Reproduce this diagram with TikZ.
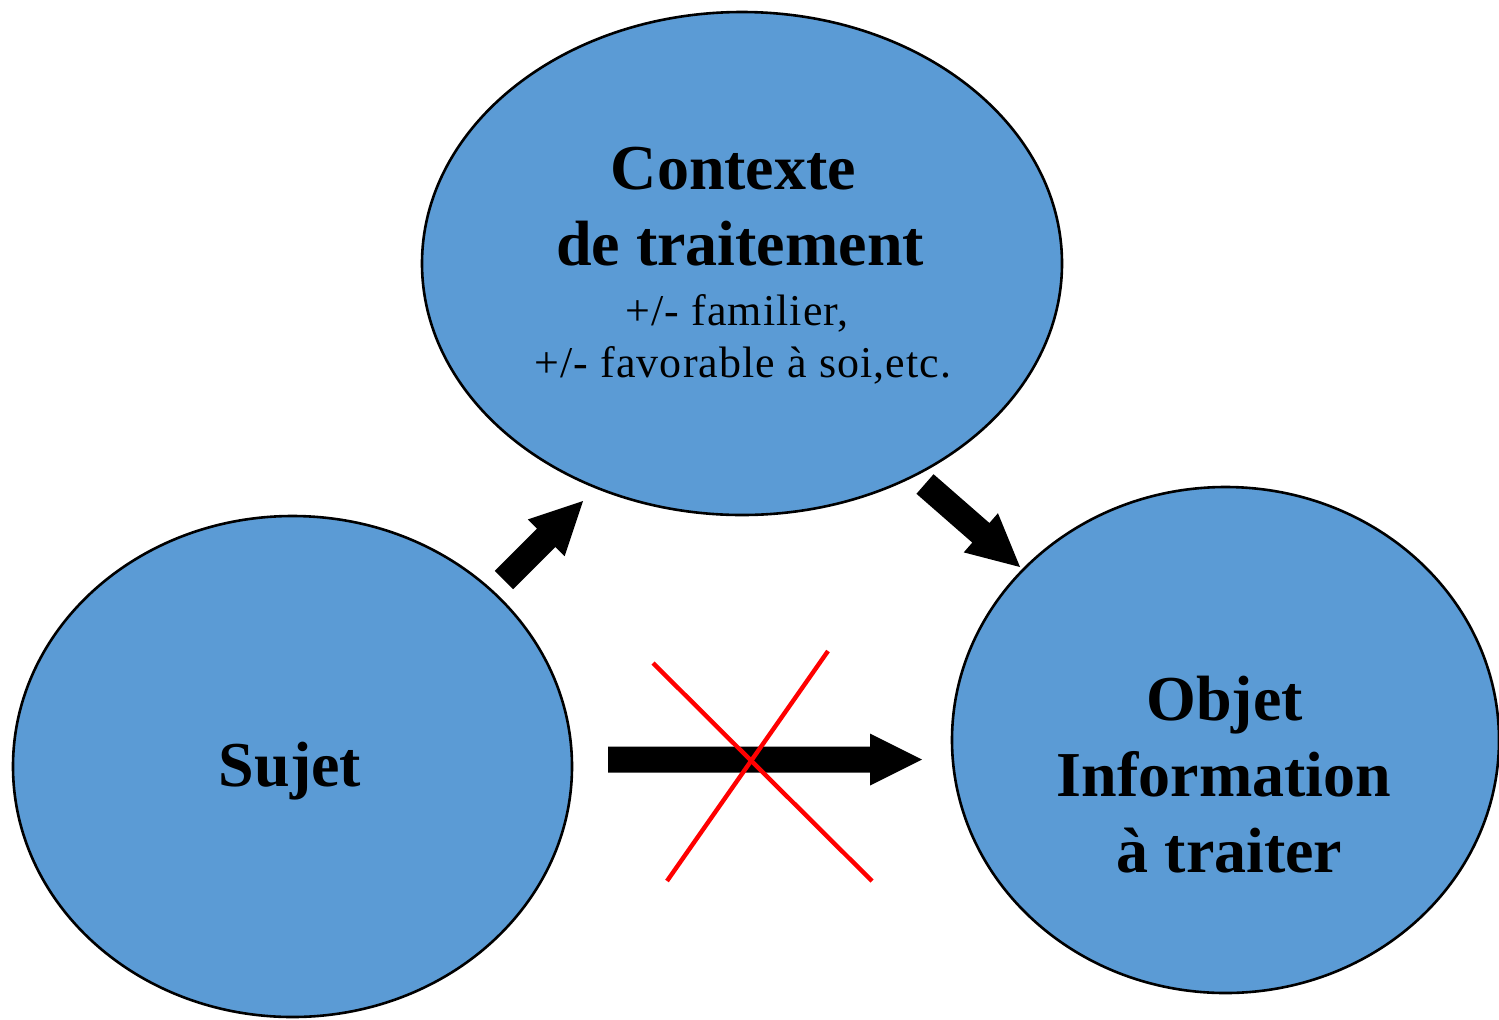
\documentclass[tikz,border=0pt]{standalone}
\usepackage{fontspec}
\setmainfont{Liberation Serif}
\newfontfamily\spacedserif[LetterSpace=2.5]{Liberation Serif}
\usetikzlibrary{shapes.geometric,calc}

\definecolor{bubble}{HTML}{5B9BD5}
\definecolor{crossred}{HTML}{FF0000}

% Filled block arrow from #1 (tail) to #2 (tip)
\newcommand\blockarrow[2]{%
  \path ($(#2)!26pt!(#1)$) coordinate (hb);
  \fill[black]
    ($(#1)!6.5pt!90:(#2)$) -- ($(hb)!6.5pt!90:(#2)$) -- ($(hb)!13pt!90:(#2)$)
    -- (#2)
    -- ($(hb)!13pt!-90:(#2)$) -- ($(hb)!6.5pt!-90:(#2)$) -- ($(#1)!6.5pt!-90:(#2)$)
    -- cycle;
}

\tikzset{
  bubblenode/.style={ellipse, draw=black, line width=1.3pt, fill=bubble, inner sep=0pt},
  bigtxt/.style={font=\bfseries\fontsize{32pt}{38pt}\selectfont, inner sep=0pt, anchor=base},
  smalltxt/.style={font=\spacedserif\fontsize{22pt}{26pt}\selectfont, inner sep=0pt, anchor=base},
  crossline/.style={draw=crossred, line width=2.2pt}
}

\begin{document}
\begin{tikzpicture}[x=0.5pt, y=-0.5pt]
  \useasboundingbox (0,0) rectangle (1499,1019);

  % the three ellipses
  \node[bubblenode, minimum width=320pt, minimum height=251.5pt] (ctx) at (742,263.5) {};
  \node[bubblenode, minimum width=279.5pt, minimum height=250.5pt] (suj) at (292.5,766.5) {};
  \node[bubblenode, minimum width=273.5pt, minimum height=253pt] (obj) at (1225.5,740) {};

  % labels
  \node[bigtxt] (ctxA) at (733.5,189) {Contexte};
  \node[bigtxt] (ctxB) at (740,265) {de traitement};
  \node[smalltxt] (ctxC) at (737,325) {+/- familier,};
  \node[smalltxt] (ctxD) at (743,377) {+/- favorable à soi,etc.};

  \node[bigtxt] (sujA) at (290,786) {Sujet};

  \node[bigtxt] (objA) at (1224.5,720) {Objet};
  \node[bigtxt] (objB) at (1224,796) {Information};
  \node[bigtxt] (objC) at (1229.5,872) {à traiter};

  % arrow end points
  \coordinate (a1s) at (504,580);
  \coordinate (a1e) at (583,501);
  \coordinate (a2s) at (925,484);
  \coordinate (a2e) at (1020,567);
  \coordinate (a3s) at (608,759.5);
  \coordinate (a3e) at (922,759.5);

  \blockarrow{a1s}{a1e}
  \blockarrow{a2s}{a2e}
  \blockarrow{a3s}{a3e}

  % red cross over the direct link
  \coordinate (x1a) at (653,663);
  \coordinate (x1b) at (872,881);
  \coordinate (x2a) at (828,651);
  \coordinate (x2b) at (667,881);
  \draw[crossline] (x1a) -- (x1b);
  \draw[crossline] (x2a) -- (x2b);
\end{tikzpicture}
\end{document}
